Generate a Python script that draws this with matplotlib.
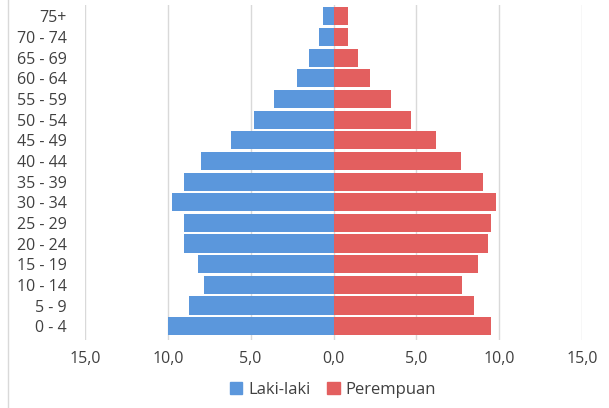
import matplotlib
matplotlib.use("Agg")
import matplotlib.pyplot as plt
from matplotlib.lines import Line2D
from matplotlib.patches import Patch
import numpy as np

# ---------------------------------------------------------------------------
# Data (percent of population per age group)
# ---------------------------------------------------------------------------
age_groups = ["0 - 4", "5 - 9", "10 - 14", "15 - 19", "20 - 24", "25 - 29",
              "30 - 34", "35 - 39", "40 - 44", "45 - 49", "50 - 54", "55 - 59",
              "60 - 64", "65 - 69", "70 - 74", "75+"]
male = [10.0, 8.75, 7.8, 8.2, 9.0, 9.05, 9.75, 9.05, 8.0, 6.2, 4.8, 3.6,
        2.2, 1.5, 0.9, 0.65]
female = [9.5, 8.5, 7.75, 8.75, 9.3, 9.5, 9.8, 9.0, 7.7, 6.2, 4.7, 3.45,
          2.2, 1.45, 0.85, 0.9]
xticks = [-15, -10, -5, 0, 5, 10, 15]
xtick_labels = ["15,0", "10,0", "5,0", "0,0", "5,0", "10,0", "15,0"]

BLUE = "#5b97dc"
RED = "#e35f5f"
FONT = ["Open Sans", "DejaVu Sans"]

W, H = 609, 408
fig = plt.figure(figsize=(W / 100, H / 100), dpi=100)
plt.rcParams["font.family"] = FONT

# axes placed in pixel coordinates
left, right, top, bottom = 85, 582, 5, 340
ax = fig.add_axes([left / W, 1 - bottom / H, (right - left) / W, (bottom - top) / H])

y = np.arange(len(age_groups))
ax.barh(y, -np.array(male), height=0.88, color=BLUE, zorder=2)
ax.barh(y, female, height=0.88, color=RED, zorder=2)

ax.set_xlim(-15, 15)
ax.set_ylim(-0.67, len(age_groups) - 0.45)
ax.set_xticks(xticks)
ax.set_xticklabels(xtick_labels)
ax.set_yticks(y)
ax.set_yticklabels(age_groups)
ax.tick_params(axis="both", length=0, labelsize=11.5, colors="#404040")
ax.tick_params(axis="x", pad=8)
ax.tick_params(axis="y", pad=13)

ax.grid(axis="x", color="#d9d9d9", linewidth=1, zorder=0)
for s in ax.spines.values():
    s.set_visible(False)

# outer chart border on the left
fig.add_artist(Line2D([8 / W, 8 / W], [0, 1], color="#d9d9d9", linewidth=1))

handles = [Patch(color=BLUE, label="Laki-laki"), Patch(color=RED, label="Perempuan")]
fig.legend(handles=handles, loc="center", bbox_to_anchor=(333 / W, 1 - 390 / H),
           ncol=2, frameon=False, fontsize=12, handlelength=0.75, handleheight=0.75,
           handletextpad=0.35, columnspacing=1.0, labelcolor="#404040")

fig.savefig("out.png", dpi=100)
